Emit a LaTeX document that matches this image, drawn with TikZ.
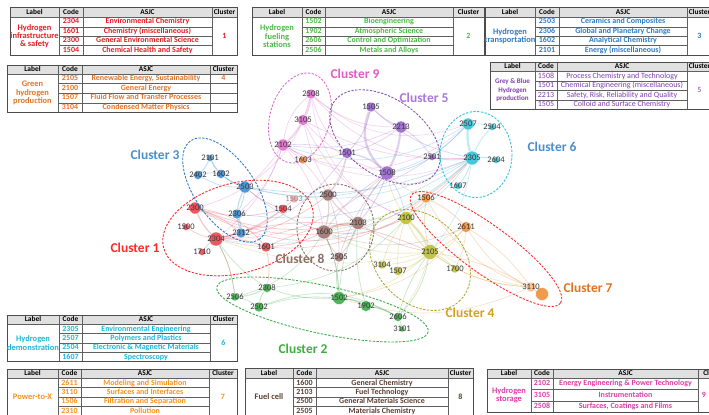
\documentclass[tikz,border=0pt]{standalone}
\usepackage{fontspec}
\setmainfont{Carlito}
\pgfdeclarelayer{bg}
\pgfdeclarelayer{edges}
\pgfsetlayers{bg,edges,main}
\definecolor{c1}{HTML}{E8474F}
\definecolor{c2}{HTML}{3DAE49}
\definecolor{c3}{HTML}{3F8FD2}
\definecolor{c4}{HTML}{BDBE3A}
\definecolor{c5}{HTML}{9966CC}
\definecolor{c6}{HTML}{33C3D6}
\definecolor{c7}{HTML}{F0903A}
\definecolor{c8}{HTML}{A07570}
\definecolor{c9}{HTML}{DD6FCB}
\definecolor{t1}{HTML}{E31E24}
\definecolor{t2}{HTML}{4DB848}
\definecolor{t3}{HTML}{2E7BC4}
\definecolor{t4}{HTML}{E0742A}
\definecolor{t5}{HTML}{7F3FB0}
\definecolor{t6}{HTML}{1FB5D9}
\definecolor{t7}{HTML}{F5921E}
\definecolor{t8}{HTML}{5C4033}
\definecolor{t9}{HTML}{E03CA8}
\definecolor{L1}{HTML}{FF2A2A}
\definecolor{L2}{HTML}{3FAF3F}
\definecolor{L3}{HTML}{4A8FCC}
\definecolor{L4}{HTML}{D4A023}
\definecolor{L5}{HTML}{A877D8}
\definecolor{L7}{HTML}{E4731E}
\definecolor{L8}{HTML}{8C6F66}
\definecolor{L9}{HTML}{E35DC6}
\tikzset{
  dot/.style={circle,inner sep=0pt,draw=white,line width=0.3pt,fill opacity=0.9},
  ntext/.style={font=\fontsize{7.3}{8}\selectfont,text=black!78,inner sep=0pt},
  edg/.style={line width=0.6pt,opacity=0.3},
  clu/.style={dash pattern=on 2pt off 1.2pt,line width=0.75pt},
  cl/.style={font=\fontsize{11.5}{12}\selectfont\bfseries,inner sep=0pt},
  tline/.style={draw=gray!75!black,line width=0.4pt},
  tborder/.style={draw=gray!60!black,line width=0.8pt},
  hdrfill/.style={fill=black!12},
  hdrtext/.style={font=\fontsize{6.3}{7}\selectfont\bfseries,inner sep=0pt,text height=4.4pt,text depth=1.2pt},
  cell/.style={font=\fontsize{6.8}{7}\selectfont\bfseries,inner sep=0pt,text height=4.7pt,text depth=1.3pt},
  lab/.style={font=\fontsize{7.2}{7.1}\selectfont\bfseries,inner sep=0pt,align=center},
}
\newcommand\tabframe[9]{%
  \fill[white] (#1,#6) rectangle (#5,{#7+#9*#8});
  \fill[hdrfill] (#1,#6) rectangle (#5,#7);
  \foreach \k in {2,...,#9} {\draw[tline] (#2,{#7+(\k-1)*#8}) -- (#4,{#7+(\k-1)*#8});}
  \draw[tline] (#1,#7) -- (#5,#7);
  \foreach \xx in {#2,#3,#4} {\draw[tline] (\xx,#6) -- (\xx,{#7+#9*#8});}
  \draw[tborder] (#1,#6) rectangle (#5,{#7+#9*#8});
  \node[hdrtext] (\tp h1) at ({(#1+#2)/2},{(#6+#7)/2}) {Label};
  \node[hdrtext] (\tp h2) at ({(#2+#3)/2},{(#6+#7)/2}) {Code};
  \node[hdrtext] (\tp h3) at ({(#3+#4)/2},{(#6+#7)/2}) {ASJC};
  \node[hdrtext] (\tp h4) at ({(#4+#5)/2},{(#6+#7)/2}) {Cluster};
}
\newcommand\trow[6]{\node[cell,text=#6] (\tp c#4) at (#1,#3) {#4};\node[cell,text=#6] (\tp a#4) at (#2,#3) {#5};}
\newcommand\nd[5]{\node[dot,fill=#4,minimum size={#5*0.06cm}] (n#1) at (#2,#3) {};\node[ntext] (l#1) at (#2,#3) {#1};}
\newcommand\ed[5]{\draw[edg,#1,line width=#5] (n#2) to[bend left=#4] (n#3);}
\begin{document}
\begin{tikzpicture}[x=0.03cm,y=-0.03cm]
\useasboundingbox (0,0) rectangle (709,414);
\clip (0,0) rectangle (709,414);
\begin{pgfonlayer}{bg}
\fill[white] (0,0) rectangle (709,414);
\end{pgfonlayer}

% ---------- network nodes ----------
\nd{2508}{311}{94}{c9}{5}
\nd{3105}{303}{120}{c9}{5.5}
\nd{2102}{283}{145}{c9}{6}
\nd{1603}{303}{160}{c7}{4}
\nd{2101}{210}{158}{c3}{3.5}
\nd{2402}{198}{175}{c3}{4.5}
\nd{1602}{221}{174}{c3}{4.5}
\nd{2503}{245}{187}{c3}{6}
\nd{2500}{328}{195}{c8}{6}
\node[dot,fill=c1!50,minimum size={4*0.06cm}] (n1503) at (294,199) {};
\node[ntext,text=black!45] (l1503) at (294,199) {1503};
\nd{1505}{371}{107}{c5}{5}
\nd{2213}{401}{127}{c5}{6}
\nd{1501}{347}{153}{c5}{5.5}
\nd{1508}{387}{173}{c5}{7}
\nd{2501}{432}{157}{c5}{3.5}
\nd{2507}{468}{124}{c6}{6}
\nd{2504}{492}{127}{c6}{3.5}
\nd{2305}{472}{158}{c6}{7}
\nd{2604}{496}{160}{c6}{3.5}
\nd{1607}{458}{186}{c6}{3.5}
\nd{1506}{426}{198}{c7}{5}
\nd{2300}{195}{208}{c1}{6}
\nd{1504}{283}{209}{c1}{4.5}
\nd{2306}{237}{214}{c3}{5}
\nd{2100}{406}{218}{c4}{6.5}
\nd{1500}{186}{227}{c1}{3.5}
\nd{2103}{358}{223}{c8}{6.5}
\nd{1600}{324}{232}{c8}{7}
\nd{2611}{466}{227}{c7}{5.5}
\nd{2312}{241}{233}{c3}{5}
\nd{2304}{216}{239}{c1}{7}
\nd{1601}{266}{247}{c1}{5}
\nd{1710}{202}{252}{c1}{3.5}
\nd{2105}{430}{252}{c4}{7.5}
\nd{2505}{339}{257}{c8}{5}
\nd{3104}{382}{265}{c4}{4}
\nd{1507}{398}{271}{c4}{4.5}
\nd{1700}{455}{269}{c4}{4}
\nd{2308}{267}{288}{c2}{4.5}
\nd{2506}{235}{297}{c2}{4}
\node[dot,fill=c7,minimum size={6.5*0.06cm}] (n2310) at (542,294) {};
\nd{3110}{531}{287}{c7!60}{5}
\nd{1502}{339}{298}{c2}{6.5}
\nd{1902}{366}{306}{c2}{5.5}
\nd{2502}{259}{307}{c2}{5}
\nd{2606}{398}{317}{c2}{4.5}
\nd{3101}{402}{329}{c2}{3}

% ---------- edges ----------
\begin{pgfonlayer}{edges}
\ed{c9}{2508}{3105}{10}{1.6pt}
\ed{c9}{3105}{2102}{10}{1.6pt}
\ed{c9}{2508}{2102}{-20}{0.6pt}
\ed{c9}{2102}{1603}{10}{0.6pt}
\ed{c9}{2102}{2304}{15}{0.6pt}
\ed{c9}{2508}{1501}{-15}{0.6pt}
\ed{c9}{3105}{1508}{-15}{0.6pt}
\ed{c9}{2102}{2500}{10}{0.6pt}
\ed{c9}{2102}{1600}{15}{0.6pt}
\ed{c9}{2508}{2213}{-20}{0.6pt}
\ed{c9}{3105}{2100}{-20}{0.6pt}
\ed{c9}{2102}{2306}{15}{0.6pt}
\ed{c9}{2508}{2305}{-25}{0.6pt}
\ed{c9}{3105}{2305}{-15}{0.6pt}
\ed{c9}{2102}{2300}{20}{0.6pt}
\ed{c9}{2508}{2503}{20}{0.6pt}
\ed{c9}{3105}{2103}{-15}{0.6pt}
\ed{c9}{2508}{2507}{-30}{0.5pt}
\ed{c9}{2102}{2305}{-25}{0.5pt}
\ed{c9}{2102}{2507}{-35}{0.5pt}
\ed{c9}{2508}{2100}{-30}{0.5pt}
\ed{c5}{1505}{1508}{-35}{2pt}
\ed{c5}{2213}{1508}{10}{1.8pt}
\ed{c5}{1505}{1501}{15}{0.8pt}
\ed{c5}{1501}{1508}{15}{1pt}
\ed{c5}{2213}{1501}{10}{0.6pt}
\ed{c5}{1505}{2213}{-10}{0.8pt}
\ed{c5}{2501}{1508}{10}{0.6pt}
\ed{c5}{1508}{2103}{10}{0.8pt}
\ed{c5}{1508}{1600}{-10}{0.6pt}
\ed{c5}{1501}{2500}{15}{0.6pt}
\ed{c5}{1508}{2100}{10}{0.6pt}
\ed{c5}{2213}{2501}{10}{0.6pt}
\ed{c5}{1505}{2305}{-15}{0.6pt}
\ed{c5}{1501}{2304}{20}{0.6pt}
\ed{c5}{1508}{2505}{-10}{0.6pt}
\ed{c5}{1501}{2102}{-10}{0.5pt}
\ed{c5}{2213}{2102}{15}{0.5pt}
\ed{c6}{2305}{2507}{10}{2pt}
\ed{c6}{2305}{2504}{10}{0.8pt}
\ed{c6}{2507}{2504}{10}{0.6pt}
\ed{c6}{2305}{2604}{10}{0.8pt}
\ed{c6}{2305}{1607}{10}{0.8pt}
\ed{c6}{2305}{2501}{10}{0.8pt}
\ed{c6}{2507}{1508}{15}{0.6pt}
\ed{c6}{2305}{2100}{10}{0.6pt}
\ed{c6}{2305}{2503}{20}{0.6pt}
\ed{c6}{2507}{2102}{25}{0.6pt}
\ed{c6}{2305}{1600}{15}{0.6pt}
\ed{c6}{2305}{2105}{15}{0.5pt}
\ed{c6}{2305}{2304}{25}{0.5pt}
\ed{c3}{2101}{2402}{10}{0.8pt}
\ed{c3}{2101}{1602}{-10}{0.8pt}
\ed{c3}{2402}{1602}{10}{0.6pt}
\ed{c3}{1602}{2503}{-10}{1pt}
\ed{c3}{2503}{2306}{10}{0.8pt}
\ed{c3}{2306}{2312}{10}{1pt}
\ed{c3}{2503}{2312}{-20}{1pt}
\ed{c3}{2402}{2503}{-15}{0.6pt}
\ed{c3}{2503}{1600}{-10}{0.6pt}
\ed{c3}{2101}{2503}{-20}{0.6pt}
\ed{c3}{2503}{2305}{-15}{0.6pt}
\ed{c3}{2503}{2507}{-30}{0.5pt}
\ed{c3}{2306}{2305}{-20}{0.5pt}
\ed{c1}{2304}{2300}{10}{1pt}
\ed{c1}{2304}{1500}{10}{0.6pt}
\ed{c1}{2304}{1710}{-10}{0.6pt}
\ed{c1}{2304}{1601}{10}{0.8pt}
\ed{c1}{2300}{1504}{-15}{0.6pt}
\ed{c1}{2304}{1504}{-10}{0.6pt}
\ed{c1}{2300}{2312}{10}{0.6pt}
\ed{c1}{1601}{1600}{-10}{0.6pt}
\ed{c1}{2304}{2500}{-15}{0.6pt}
\ed{c1}{1503}{2304}{15}{0.6pt}
\ed{c1}{2300}{2103}{-15}{0.6pt}
\ed{c1}{1601}{2103}{10}{0.6pt}
\ed{c1}{2304}{2105}{20}{0.6pt}
\ed{c1}{1601}{2308}{10}{0.6pt}
\ed{c1}{2304}{2506}{10}{0.6pt}
\ed{c1}{2300}{1601}{20}{0.6pt}
\ed{c1}{1504}{2503}{10}{0.6pt}
\ed{c1}{2304}{2305}{-30}{0.5pt}
\ed{c1}{2300}{2305}{-35}{0.5pt}
\ed{c1}{2304}{1508}{-20}{0.5pt}
\ed{c1}{2300}{2100}{-25}{0.5pt}
\ed{c8}{1600}{2103}{15}{1.2pt}
\ed{c8}{2500}{1600}{10}{1pt}
\ed{c8}{2500}{2103}{-10}{1pt}
\ed{c8}{1600}{2505}{-10}{0.8pt}
\ed{c8}{2103}{2505}{10}{0.8pt}
\ed{c8}{2500}{2505}{10}{0.6pt}
\ed{c8}{2103}{1508}{10}{0.6pt}
\ed{c8}{1600}{2100}{-15}{0.6pt}
\ed{c8}{2103}{2105}{-10}{0.6pt}
\ed{c8}{2500}{1501}{-10}{0.6pt}
\ed{c8}{1600}{1502}{10}{0.6pt}
\ed{c8}{1600}{2611}{-20}{0.5pt}
\ed{c4}{2100}{2105}{10}{2pt}
\ed{c4}{2100}{2105}{-12}{1pt}
\ed{c4}{2105}{1507}{10}{0.8pt}
\ed{c4}{2105}{3104}{10}{0.6pt}
\ed{c4}{2105}{1700}{10}{0.8pt}
\ed{c4}{2100}{1507}{-10}{0.6pt}
\ed{c4}{2100}{3104}{-10}{0.6pt}
\ed{c4}{2105}{1502}{15}{0.6pt}
\ed{c4}{2105}{2606}{10}{0.6pt}
\ed{c4}{2100}{1506}{10}{0.6pt}
\ed{c4}{2105}{2611}{10}{0.6pt}
\ed{c4}{2100}{1600}{-10}{0.6pt}
\ed{c4}{2105}{1600}{15}{0.6pt}
\ed{c4}{2100}{1508}{10}{0.6pt}
\ed{c4}{2105}{2304}{15}{0.5pt}
\ed{c4}{2105}{3110}{-15}{0.5pt}
\ed{c4}{2100}{3110}{-20}{0.5pt}
\ed{c7}{1506}{2611}{10}{0.8pt}
\ed{c7}{2611}{3110}{10}{0.6pt}
\ed{c7}{1506}{2105}{-10}{0.8pt}
\ed{c7}{2611}{2105}{10}{0.6pt}
\ed{c7}{3110}{2105}{15}{0.6pt}
\ed{c7}{1506}{2100}{10}{0.6pt}
\ed{c7}{1603}{1501}{-5}{0.6pt}
\ed{c7}{2611}{1700}{10}{0.6pt}
\ed{c7}{1506}{3110}{-20}{0.6pt}
\ed{c7}{2310}{2611}{15}{0.6pt}
\ed{c7}{2310}{2105}{-10}{0.6pt}
\ed{c7}{1506}{1508}{10}{0.6pt}
\ed{c7}{2611}{1502}{20}{0.5pt}
\ed{c7}{3110}{1502}{20}{0.5pt}
\ed{c2}{2308}{2506}{10}{0.8pt}
\ed{c2}{2308}{2502}{-15}{0.8pt}
\ed{c2}{2506}{2502}{10}{0.6pt}
\ed{c2}{1502}{1902}{10}{1pt}
\ed{c2}{1502}{2606}{10}{0.8pt}
\ed{c2}{1902}{2606}{10}{0.8pt}
\ed{c2}{1502}{2308}{10}{0.6pt}
\ed{c2}{1502}{2502}{-10}{0.6pt}
\ed{c2}{2606}{3101}{10}{0.6pt}
\ed{c2}{1502}{2103}{10}{0.6pt}
\ed{c2}{1902}{2103}{10}{0.6pt}
\ed{c2}{1502}{2505}{10}{0.6pt}
\ed{c2}{2606}{2105}{10}{0.6pt}
\ed{c2}{2308}{2304}{10}{0.6pt}
\ed{c2}{2506}{2304}{-10}{0.6pt}
\ed{c2}{2502}{2606}{25}{0.6pt}
\ed{c2}{1502}{1600}{-10}{0.6pt}
\ed{c2}{2606}{2105}{-15}{0.6pt}
\ed{c2}{2308}{2100}{-20}{0.5pt}
\ed{c2}{2506}{1600}{-20}{0.5pt}
\end{pgfonlayer}

% ---------- cluster ellipses ----------
\draw[clu,draw=c9,rotate around={-16:(300,118)}] (300,118) ellipse [x radius=30, y radius=46];
\draw[clu,draw=c5!85!black,rotate around={-35:(385,137)}] (385,137) ellipse [x radius=62, y radius=38];
\draw[clu,draw=c6] (476,154.5) ellipse [x radius=36, y radius=43];
\draw[clu,draw=t3,rotate around={-55:(225,190)}] (225,190) ellipse [x radius=60, y radius=30];
\draw[clu,draw=L1,rotate around={15:(238,228)}] (238,228) ellipse [x radius=77, y radius=45];
\draw[clu,draw=L8] (335.5,227.5) ellipse [x radius=38.5, y radius=43.5];
\draw[clu,draw=c4!90!black,rotate around={-45:(420,260)}] (420,260) ellipse [x radius=57, y radius=43];
\draw[clu,draw=L1,rotate around={-36:(486,249)}] (486,249) ellipse [x radius=92, y radius=24];
\draw[clu,draw=c2,rotate around={-12:(322.5,309.5)}] (322.5,309.5) ellipse [x radius=108, y radius=24];

% ---------- cluster labels ----------
\node[cl,text=L1] (cl1) at (135,248) {Cluster 1};
\node[cl,text=L2] (cl2) at (303,349) {Cluster 2};
\node[cl,text=L3] (cl3) at (155,155) {Cluster 3};
\node[cl,text=L4] (cl4) at (470,313) {Cluster 4};
\node[cl,text=L5] (cl5) at (424,98) {Cluster 5};
\node[cl,text=L3] (cl6) at (552,147) {Cluster 6};
\node[cl,text=L7] (cl7) at (588,288) {Cluster 7};
\node[cl,text=L8] (cl8) at (300,259) {Cluster 8};
\node[cl,text=L9] (cl9) at (355,74) {Cluster 9};

% ---------- tables ----------
\def\tp{t1}
\tabframe{10}{59}{83}{212}{237}{7}{17.3}{9.45}{4}
\node[lab,text=t1] (t1lab) at (34.5,36.2) {Hydrogen\\infrastructure\\\& safety};
\trow{71}{147.5}{22.0}{2304}{Environmental Chemistry}{t1}
\trow{71}{147.5}{31.5}{1601}{Chemistry (miscellaneous)}{t1}
\trow{71}{147.5}{40.9}{2300}{General Environmental Science}{t1}
\trow{71}{147.5}{50.4}{1504}{Chemical Health and Safety}{t1}
\node[cell,text=t1] (t1cl) at (224.5,36.2) {1};

\def\tp{t2}
\tabframe{252}{302}{325}{453}{484}{7}{17.3}{9.45}{4}
\node[lab,text=t2] (t2lab) at (277,36.2) {Hydrogen\\fueling\\stations};
\trow{313.5}{389}{22.0}{1502}{Bioengineering}{t2}
\trow{313.5}{389}{31.5}{1902}{Atmospheric Science}{t2}
\trow{313.5}{389}{40.9}{2606}{Control and Optimization}{t2}
\trow{313.5}{389}{50.4}{2506}{Metals and Alloys}{t2}
\node[cell,text=t2] (t2cl) at (468.5,36.2) {2};

\def\tp{t3}
\tabframe{485}{535}{559}{687}{712}{7}{17.3}{9.45}{4}
\node[lab,text=t3] (t3lab) at (510,36.2) {Hydrogen\\transportation};
\trow{547}{623}{22.0}{2503}{Ceramics and Composites}{t3}
\trow{547}{623}{31.5}{2306}{Global and Planetary Change}{t3}
\trow{547}{623}{40.9}{1602}{Analytical Chemistry}{t3}
\trow{547}{623}{50.4}{2101}{Energy (miscellaneous)}{t3}
\node[cell,text=t3] (t3cl) at (699.5,36.2) {3};

\def\tp{t4}
\tabframe{7}{58}{82}{210}{237}{65}{74}{9.6}{4}
\foreach \k in {1,2,3} {\draw[tline] (210,{74+\k*9.6}) -- (237,{74+\k*9.6});}
\node[lab,text=t4] (t4lab) at (32.5,93.2) {Green\\hydrogen\\production};
\trow{70}{146}{78.8}{2105}{Renewable Energy, Sustainability}{t4}
\trow{70}{146}{88.4}{2100}{General Energy}{t4}
\trow{70}{146}{98.0}{1507}{Fluid Flow and Transfer Processes}{t4}
\trow{70}{146}{107.6}{3104}{Condensed Matter Physics}{t4}
\node[cell,text=t4] (t4cl) at (223.5,78.8) {4};

\def\tp{t5}
\tabframe{490}{535}{557}{687}{712}{62}{71.3}{9.5}{4}
\node[lab,text=t5,font=\fontsize{6}{7.4}\selectfont\bfseries] (t5lab) at (512.5,90.3) {Grey \& Blue\\Hydrogen\\production};
\tikzset{cell/.append style={font=\fontsize{6.8}{7}\selectfont}}
\trow{546}{622}{76.05}{1508}{Process Chemistry and Technology}{t5}
\trow{546}{622}{85.55}{1501}{Chemical Engineering (miscellaneous)}{t5}
\trow{546}{622}{95.05}{2213}{Safety, Risk, Reliability and Quality}{t5}
\trow{546}{622}{104.55}{1505}{Colloid and Surface Chemistry}{t5}
\node[cell,text=t5] (t5cl) at (699.5,90.3) {5};
\tikzset{cell/.append style={font=\fontsize{6.8}{7}\selectfont\bfseries}}

\def\tp{t6}
\tabframe{7}{59}{82}{210}{237}{315.5}{324.3}{9.4}{4}
\node[lab,text=t6] (t6lab) at (33,343.1) {Hydrogen\\demonstration};
\trow{70.5}{146}{329.0}{2305}{Environmental Engineering}{t6}
\trow{70.5}{146}{338.4}{2507}{Polymers and Plastics}{t6}
\trow{70.5}{146}{347.8}{2504}{Electronic \& Magnetic Materials}{t6}
\trow{70.5}{146}{357.2}{1607}{Spectroscopy}{t6}
\node[cell,text=t6] (t6cl) at (223.5,343.1) {6};

\def\tp{t7}
\tabframe{7}{58}{81}{209}{237}{369}{378.3}{9.35}{4}
\node[lab,text=t7] (t7lab) at (32.5,397) {Power-to-X};
\trow{69.5}{145}{383.0}{2611}{Modeling and Simulation}{t7}
\trow{69.5}{145}{392.3}{3110}{Surfaces and Interfaces}{t7}
\trow{69.5}{145}{401.7}{1506}{Filtration and Separation}{t7}
\trow{69.5}{145}{411.0}{2310}{Pollution}{t7}
\node[cell,text=t7] (t7cl) at (223,397) {7};

\def\tp{t8}
\tabframe{245}{293}{316}{448}{473}{368.3}{378.3}{9.4}{4}
\node[lab,text=t8] (t8lab) at (269,397) {Fuel cell};
\trow{304.5}{382}{383.0}{1600}{General Chemistry}{t8}
\trow{304.5}{382}{392.4}{2103}{Fuel Technology}{t8}
\trow{304.5}{382}{401.8}{2500}{General Materials Science}{t8}
\trow{304.5}{382}{411.2}{2505}{Materials Chemistry}{t8}
\node[cell,text=t8] (t8cl) at (460.5,397) {8};

\def\tp{t9}
\tabframe{487}{531}{553}{698}{730}{369}{378.3}{11.3}{3}
\node[lab,text=t9] (t9lab) at (509,395) {Hydrogen\\storage};
\trow{542}{625.5}{383.95}{2102}{Energy Engineering \& Power Technology}{t9}
\trow{542}{625.5}{395.25}{3105}{Instrumentation}{t9}
\trow{542}{625.5}{406.55}{2508}{Surfaces, Coatings and Films}{t9}
\node[cell,text=t9] (t9cl) at (704,395) {9};
\end{tikzpicture}
\end{document}
